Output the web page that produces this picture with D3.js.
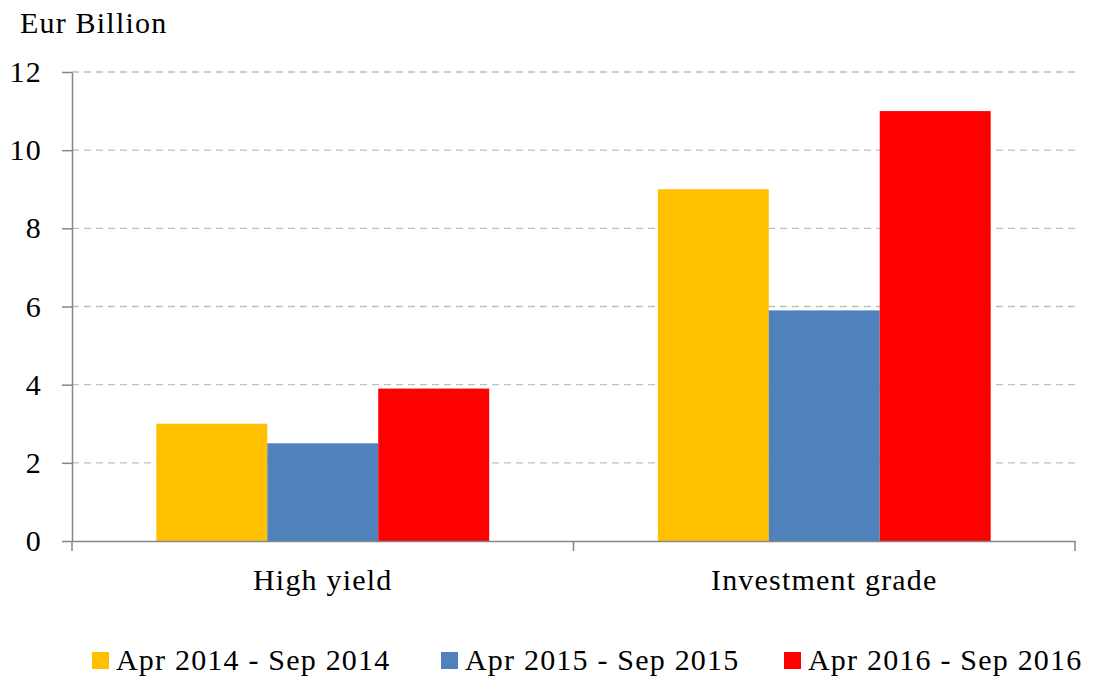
<!DOCTYPE html>
<html>
<head>
<meta charset="utf-8">
<script src="https://cdn.jsdelivr.net/npm/d3@7"></script>
<style>
  body { margin: 0; background: #fff; }
  text { font-family: "Liberation Serif", "Times New Roman", serif; fill: #000; letter-spacing: 1.2px; }
</style>
</head>
<body>
<svg id="chart" width="1096" height="678"></svg>
<script>
// data
const categories = ["High yield", "Investment grade"];
const seriesNames = ["Apr 2014 - Sep 2014", "Apr 2015 - Sep 2015", "Apr 2016 - Sep 2016"];
const apr2014 = [3.0, 9.0];
const apr2015 = [2.5, 5.9];
const apr2016 = [3.9, 11.0];
const yTicks = [0, 2, 4, 6, 8, 10, 12];
const colors = ["#FFC000", "#4F81BD", "#FF0000"];

const series = [apr2014, apr2015, apr2016];

const svg = d3.select("#chart");
const plotLeft = 72, plotRight = 1075, plotTop = 72, plotBottom = 541;
const fontSize = 30;

const x = d3.scaleBand().domain(categories).range([plotLeft, plotRight]);
const xs = d3.scaleBand().domain(d3.range(series.length)).range([0, x.bandwidth()]).paddingInner(0).paddingOuter(0.76);
const y = d3.scaleLinear().domain([0, 12]).range([plotBottom, plotTop]);

// gridlines
svg.append("g")
  .selectAll("line")
  .data(yTicks.filter(d => d > 0))
  .enter()
  .append("line")
  .attr("x1", plotLeft).attr("x2", plotRight)
  .attr("y1", d => y(d)).attr("y2", d => y(d))
  .attr("stroke", "#bfbfbf")
  .attr("stroke-width", 1.3)
  .attr("stroke-dasharray", "7,5");

// bars
series.forEach((vals, si) => {
  svg.append("g")
    .selectAll("rect")
    .data(vals)
    .enter()
    .append("rect")
    .attr("x", (d, i) => x(categories[i]) + xs(si))
    .attr("y", d => y(d))
    .attr("width", xs.bandwidth())
    .attr("height", d => plotBottom - y(d))
    .attr("fill", colors[si]);
});

// y axis
const yAxis = svg.append("g")
  .attr("transform", `translate(${plotLeft},0)`)
  .call(d3.axisLeft(y).tickValues(yTicks).tickSize(10).tickPadding(20).tickSizeOuter(0));
yAxis.select(".domain").attr("stroke", "#868686").attr("stroke-width", 1.5);
yAxis.selectAll(".tick line").attr("stroke", "#868686").attr("stroke-width", 1.5);
yAxis.selectAll("text")
  .attr("font-family", "Liberation Serif")
  .attr("font-size", fontSize)
  .attr("fill", "#000");

// x axis
const xAxis = svg.append("g")
  .attr("transform", `translate(0,${plotBottom})`)
  .call(d3.axisBottom(x).tickSize(0).tickPadding(28));
xAxis.select(".domain").attr("stroke", "#868686").attr("stroke-width", 1.5);
xAxis.selectAll("text")
  .attr("font-family", "Liberation Serif")
  .attr("font-size", fontSize)
  .attr("fill", "#000");
// category boundary ticks
svg.append("g")
  .selectAll("line")
  .data([plotLeft, x(categories[1]), plotRight])
  .enter()
  .append("line")
  .attr("x1", d => d).attr("x2", d => d)
  .attr("y1", plotBottom).attr("y2", plotBottom + 10)
  .attr("stroke", "#868686")
  .attr("stroke-width", 1.5);

// unit label
svg.append("text")
  .attr("x", 20).attr("y", 33)
  .attr("font-size", fontSize)
  .text("Eur Billion");

// legend
const legendX = [92, 441, 784];
const legend = svg.append("g")
  .selectAll("g")
  .data(seriesNames)
  .enter()
  .append("g")
  .attr("transform", (d, i) => `translate(${legendX[i]},652)`);
legend.append("rect")
  .attr("width", 17).attr("height", 17)
  .attr("fill", (d, i) => colors[i]);
legend.append("text")
  .attr("x", 24).attr("y", 18)
  .attr("font-size", fontSize)
  .text(d => d);
</script>
</body>
</html>
